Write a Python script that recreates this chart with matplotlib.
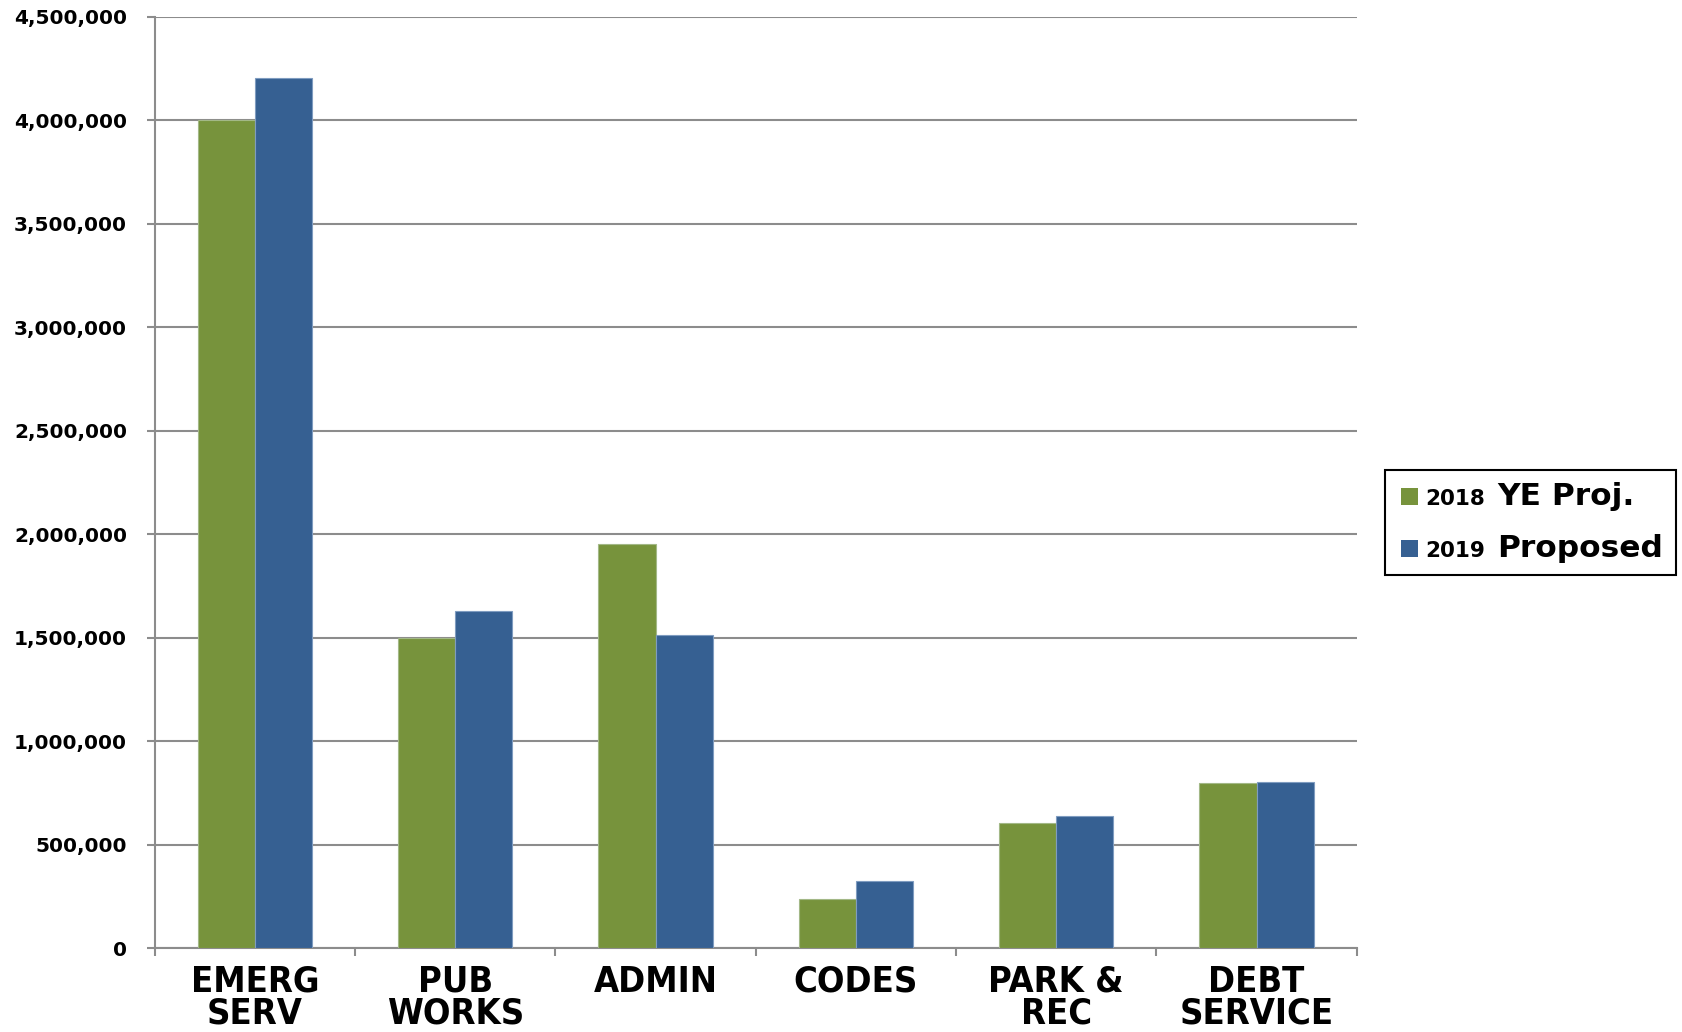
import numpy as np
import matplotlib
matplotlib.use('Agg')
import matplotlib.pyplot as plt
from matplotlib import font_manager as fm
from matplotlib.patches import Rectangle
from matplotlib.ticker import FuncFormatter, MultipleLocator

categories = ['EMERG\nSERV', 'PUB\nWORKS', 'ADMIN', 'CODES', 'PARK &\nREC', 'DEBT\nSERVICE']
ye_proj_2018 = [4000000, 1500000, 1953000, 235000, 604000, 798000]
proposed_2019 = [4207000, 1629000, 1513000, 325000, 639000, 803000]
series_years = ['2018', '2019']
series_names = ['YE Proj.', 'Proposed']

green = '#77933c'
blue = '#366092'
grid_col = '#8c8c8c'

# pick a narrow bold face for the category labels if one is around
names = {f.name for f in fm.fontManager.ttflist}
cond = [f for f in fm.fontManager.ttflist
        if f.name == 'DejaVu Sans' and 'Condensed' in f.fname and 'Bold' in f.fname
        and 'Oblique' not in f.fname]
if 'Liberation Sans Narrow' in names:
    xl_font = dict(family='Liberation Sans Narrow', size=29)
elif cond:
    xl_font = dict(fname=cond[0].fname, size=26)
else:
    xl_font = dict(family='DejaVu Sans', size=23)
if 'fname' in xl_font:
    xl_prop = fm.FontProperties(fname=xl_font['fname'], size=xl_font['size'])
else:
    xl_prop = fm.FontProperties(family=xl_font['family'], weight='bold', size=xl_font['size'])

W, H = 1683, 1032
fig = plt.figure(figsize=(W / 100, H / 100), dpi=100)
ax = fig.add_axes([154.7 / W, 1 - 948 / H, (1356.7 - 154.7) / W, (948 - 17) / H])

x = np.arange(len(categories))
bw = 0.285
ax.bar(x - bw / 2, ye_proj_2018, bw, color=green, edgecolor='#a3b887', linewidth=0.8, zorder=3)
ax.bar(x + bw / 2, proposed_2019, bw, color=blue, edgecolor='#7f9cc0', linewidth=0.8, zorder=3)

ax.set_xlim(-0.5, len(categories) - 0.5)
ax.set_ylim(0, 4500000)
ax.yaxis.set_major_locator(MultipleLocator(500000))
ax.yaxis.set_major_formatter(FuncFormatter(lambda v, p: f'{int(v):,}'))
ax.grid(axis='y', color=grid_col, linewidth=1.5, zorder=0)
ax.set_axisbelow(True)

for s in ['top', 'right']:
    ax.spines[s].set_visible(False)
for s in ['left', 'bottom']:
    ax.spines[s].set_color(grid_col)
    ax.spines[s].set_linewidth(1.5)

ax.set_xticks(x)
ax.set_xticklabels(categories, fontproperties=xl_prop, linespacing=0.92)
ax.set_xticks(np.arange(-0.5, len(categories)), minor=True)
ax.tick_params(axis='x', which='major', length=0, pad=12)
ax.tick_params(axis='x', which='minor', length=6, width=1.5, color=grid_col, direction='out')
ax.tick_params(axis='y', length=6, width=1.5, color=grid_col, pad=14, labelsize=14.5)
for lbl in ax.get_yticklabels():
    lbl.set_fontweight('bold')

# legend drawn by hand (two font sizes in each label)
def fx(px):
    return px / W

def fy(py):
    return 1 - py / H

fig.patches.append(Rectangle((fx(1385), fy(575)), fx(1676) - fx(1385), fy(470) - fy(575),
                             transform=fig.transFigure, fill=False, edgecolor='black', linewidth=1.5))
rows = [505, 557]
for yb, col, yr, nm in zip(rows, [green, blue], series_years, series_names):
    fig.patches.append(Rectangle((fx(1401), fy(yb)), fx(17), 17 / H, transform=fig.transFigure,
                                 facecolor=col, edgecolor='none'))
    fig.text(fx(1425), fy(yb), yr, fontsize=15.5, fontweight='bold', va='baseline', ha='left')
    fig.text(fx(1497), fy(yb), nm, fontsize=22.5, fontweight='bold', va='baseline', ha='left')

fig.savefig('out.png', dpi=100)
